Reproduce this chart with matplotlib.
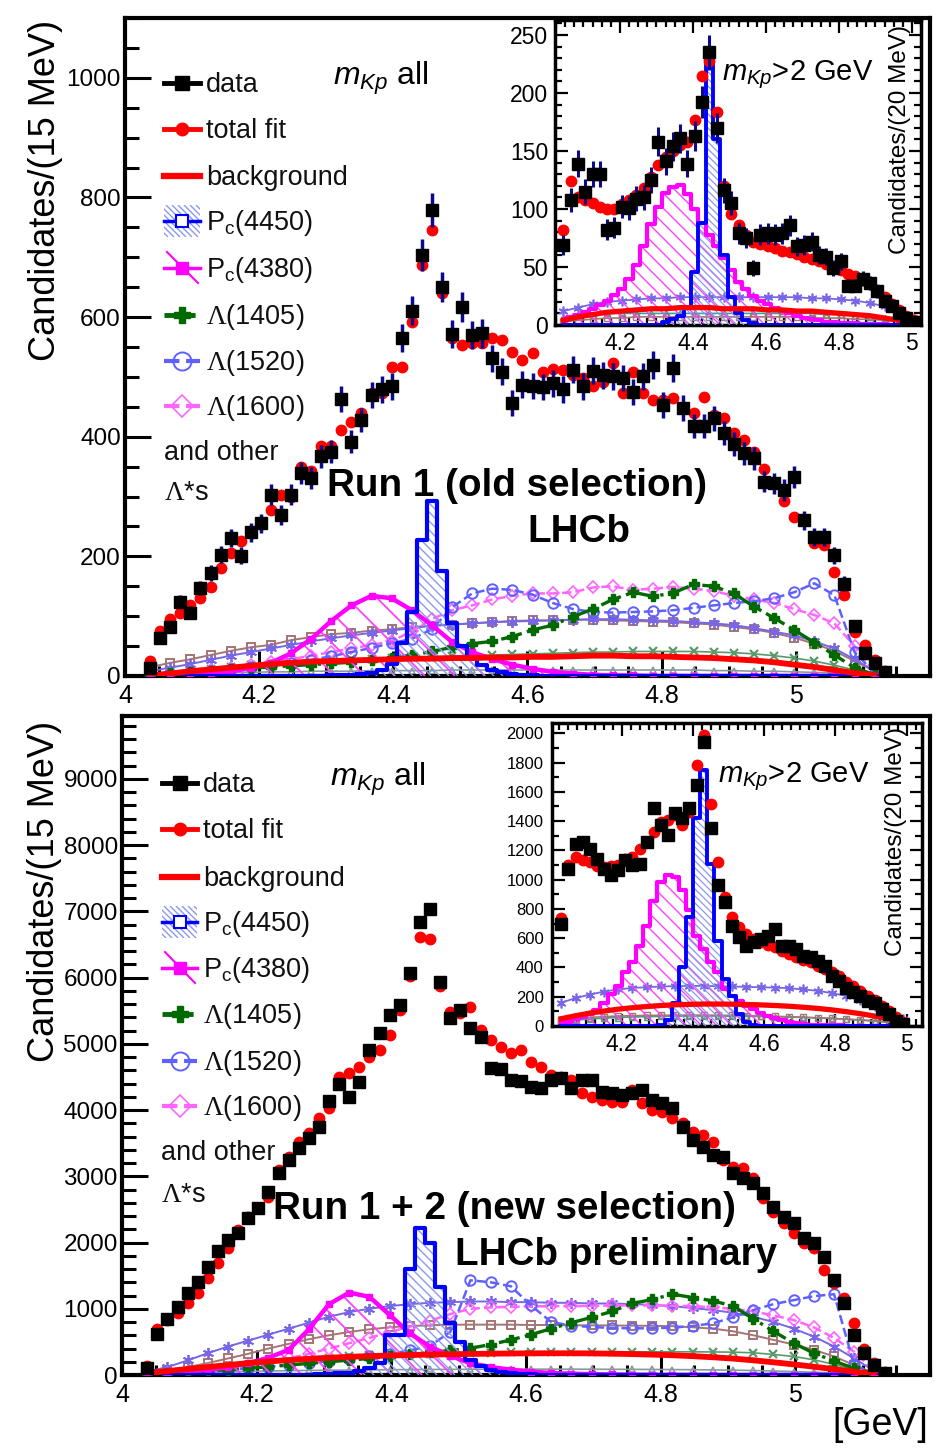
import numpy as np
import matplotlib
matplotlib.use("Agg")
import matplotlib.pyplot as plt
from matplotlib.ticker import MultipleLocator, FixedLocator, FuncFormatter
from matplotlib.collections import LineCollection
from matplotlib.patches import Rectangle

plt.rcParams["font.family"] = ["Liberation Sans", "DejaVu Sans"]
plt.rcParams["mathtext.fontset"] = "custom"
plt.rcParams["mathtext.rm"] = "Liberation Serif"
plt.rcParams["mathtext.sf"] = "Liberation Sans"
plt.rcParams["mathtext.it"] = "Liberation Sans:italic"
plt.rcParams["mathtext.bf"] = "Liberation Sans:bold"

W, H = 944, 1455

# ---------------- binning ----------------
mass = 4.0375 + 0.015 * np.arange(74)          # m(J/psi p), 15 MeV bins
comp_mass = 4.0375 + 0.03 * np.arange(37)      # fit-component curves
ins_top_mass = 4.045 + 0.02 * np.arange(49)    # 20 MeV bins (m_Kp > 2 GeV)
ins_bot_mass = 4.03 + 0.02 * np.arange(49)
ins_top_comp_mass = 4.045 + 0.04 * np.arange(25)
ins_bot_comp_mass = 4.03 + 0.04 * np.arange(25)

# ---------------- Run 1 (old selection) ----------------
run1_data = [13, 63, 82, 124, 106, 147, 172, 203, 230, 201, 240, 255, 303, 269, 303, 339,
             331, 367, 375, 463, 392, 428, 470, 479, 484, 565, 611, 704, 779, 650, 572, 617,
             570, 573, 531, 509, 456, 487, 485, 483, 489, 479, 512, 484, 510, 503, 501, 498,
             475, 501, 520, 453, 515, 448, 418, 418, 431, 406, 388, 372, 364, 325, 322, 311,
             333, 260, 232, 232, 202, 154, 84, 38, 21, 7]
run1_fit = [25, 76, 96, 105, 119, 130, 149, 180, 205, 225, 241, 255, 278, 303, 300, 350,
            342, 385, 384, 412, 425, 440, 473, 473, 517, 517, 592, 687, 746, 640, 565, 553,
            556, 556, 565, 562, 542, 528, 540, 509, 514, 512, 503, 498, 484, 492, 523, 473,
            509, 473, 462, 462, 464, 450, 439, 466, 436, 431, 406, 395, 375, 346, 325, 292,
            266, 261, 223, 219, 174, 135, 74, 52, 27, 8]
run1_pc4450 = [0] * 18 + [1, 2, 2, 3, 5, 10, 20, 55, 107, 228, 292, 175, 88, 50, 30, 18,
                          10, 6, 4, 2, 1] + [0] * 35
run1_bkg = [1, 4, 8, 11, 14, 17, 20, 22, 24, 25, 26, 27, 28, 29, 29, 30, 30, 31, 31, 32,
            32, 33, 34, 34, 33, 33, 32, 31, 30, 28, 26, 23, 19, 15, 10, 5, 1]
run1_pc4380 = [0, 1, 3, 5, 8, 13, 22, 38, 62, 92, 118, 134, 130, 110, 85, 57, 40, 28, 19,
               12, 7, 4, 2, 1, 1, 0, 0, 0, 0, 0, 0, 0, 0, 0, 0, 0, 0]
run1_l1405 = [3, 5, 7, 9, 11, 13, 15, 17, 19, 21, 23, 26, 30, 35, 41, 48, 54, 58, 66, 77,
              85, 99, 112, 128, 140, 133, 139, 153, 150, 138, 116, 97, 77, 56, 35, 14, 2]
run1_l1520 = [2, 4, 6, 9, 12, 15, 18, 22, 27, 33, 40, 47, 55, 62, 78, 115, 138, 146, 144,
              136, 122, 112, 107, 106, 107, 108, 110, 114, 118, 122, 125, 130, 140, 155,
              135, 40, 5]
run1_l1600 = [2, 4, 7, 10, 14, 18, 23, 28, 34, 40, 46, 52, 58, 75, 95, 110, 118, 128, 134,
              138, 138, 140, 148, 150, 144, 146, 149, 146, 142, 134, 128, 122, 112, 102,
              88, 50, 5]
run1_other_sq = [15, 22, 28, 35, 42, 48, 52, 60, 65, 70, 72, 76, 78, 82, 84, 86, 88, 90, 92,
                 93, 93, 94, 94, 93, 92, 91, 90, 88, 86, 82, 78, 72, 64, 54, 42, 25, 8]
run1_other_star = [8, 14, 20, 27, 34, 40, 46, 52, 58, 63, 68, 72, 76, 80, 84, 86, 88, 90,
                   91, 92, 93, 94, 95, 95, 94, 93, 92, 90, 88, 85, 80, 74, 68, 58, 46, 28, 8]
run1_other_x = [3, 6, 9, 12, 15, 18, 20, 22, 24, 26, 28, 29, 30, 31, 32, 33, 34, 35, 36, 37,
                38, 39, 40, 40, 41, 41, 41, 41, 40, 39, 37, 34, 30, 25, 18, 10, 2]
run1_other_tri = [2, 3, 4, 5, 6, 6, 7, 7, 8, 8, 8, 9, 9, 9, 9, 10, 10, 10, 10, 10, 10, 10,
                  10, 10, 10, 10, 10, 10, 9, 9, 8, 8, 7, 6, 5, 3, 1]

# ---------------- Run 1 + 2 (new selection) ----------------
run12_data = [101, 619, 841, 1032, 1234, 1409, 1636, 1877, 2039, 2140, 2366, 2517, 2768,
              3046, 3247, 3423, 3574, 3740, 4140, 4400, 4203, 4429, 4908, 5160, 5436, 5590,
              6066, 6846, 7040, 5940, 5387, 5512, 5235, 5109, 4640, 4620, 4455, 4440, 4344,
              4330, 4455, 4480, 4330, 4455, 4455, 4279, 4254, 4229, 4254, 4304, 4153, 4103,
              4027, 3750, 3549, 3448, 3322, 3297, 3046, 2970, 2894, 2744, 2542, 2391, 2291,
              2064, 1989, 1787, 1435, 1083, 604, 328, 151, 25]
run12_fit = [130, 690, 830, 931, 1082, 1233, 1460, 1686, 1913, 2190, 2391, 2517, 2693, 3096,
             3297, 3524, 3650, 3876, 4027, 4506, 4557, 4657, 4808, 4909, 5136, 5513, 6017,
             6610, 6590, 5866, 5475, 5460, 5550, 5210, 5060, 4958, 4858, 4908, 4732, 4657,
             4531, 4506, 4455, 4254, 4204, 4153, 4128, 4128, 4300, 4103, 4002, 3977, 3876,
             3801, 3675, 3624, 3524, 3247, 3146, 3121, 2970, 2668, 2467, 2291, 2140, 1989,
             1913, 1586, 1385, 1158, 780, 400, 180, 50]
run12_pc4450 = [0] * 17 + [10, 15, 25, 35, 60, 100, 176, 600, 610, 1600, 2215, 2000, 1330,
                           780, 500, 230, 130, 80, 50, 30, 20, 10] + [0] * 35
run12_bkg = [30, 60, 90, 120, 150, 180, 205, 225, 245, 260, 275, 285, 295, 302, 308, 313,
             318, 322, 325, 327, 328, 328, 326, 322, 316, 308, 298, 285, 268, 248, 222, 192,
             160, 125, 88, 50, 15]
run12_pc4380 = [20, 35, 55, 80, 115, 180, 260, 380, 690, 1070, 1244, 1180, 906, 630, 428,
                290, 176, 120, 80, 50, 30, 20, 12, 8, 5, 3, 2, 1, 0, 0, 0, 0, 0, 0, 0, 0, 0]
run12_l1405 = [10, 25, 40, 60, 80, 100, 125, 150, 175, 200, 225, 250, 280, 310, 340, 370,
               405, 460, 530, 610, 700, 790, 870, 960, 1080, 1140, 1220, 1170, 1120, 1040,
               850, 660, 480, 330, 210, 100, 20]
run12_l1520 = [10, 25, 40, 60, 80, 100, 125, 150, 180, 210, 240, 280, 320, 370, 440, 650,
               1430, 1400, 1340, 1050, 800, 745, 725, 710, 705, 705, 715, 740, 780, 870, 980,
               1070, 1130, 1190, 1220, 150, 20]
run12_l1600 = [10, 25, 45, 70, 100, 140, 190, 250, 320, 400, 480, 560, 650, 730, 820, 920,
               1000, 1020, 1030, 1035, 1040, 1040, 1045, 1050, 1050, 1050, 1045, 1040, 1020,
               1000, 960, 900, 830, 720, 560, 350, 60]
run12_other_sq = [30, 70, 120, 180, 250, 320, 400, 470, 540, 600, 650, 690, 720, 740, 750,
                  760, 760, 760, 760, 755, 755, 750, 750, 748, 745, 742, 738, 720, 700, 660,
                  600, 530, 460, 380, 280, 150, 25]
run12_other_star = [50, 120, 220, 330, 430, 520, 610, 700, 790, 880, 950, 1000, 1040, 1070,
                    1090, 1100, 1110, 1110, 1100, 1100, 1090, 1090, 1080, 1080, 1070, 1060,
                    1040, 1010, 980, 940, 880, 800, 700, 580, 430, 250, 60]
run12_other_x = [10, 35, 60, 90, 120, 150, 180, 210, 240, 260, 280, 295, 305, 312, 320, 326,
                 332, 336, 340, 342, 344, 345, 346, 348, 350, 350, 350, 350, 348, 345, 335,
                 310, 280, 230, 160, 80, 15]
run12_other_tri = [10, 20, 30, 40, 50, 55, 60, 65, 70, 72, 75, 78, 80, 82, 84, 85, 86, 87,
                   88, 88, 88, 88, 87, 86, 85, 84, 82, 80, 77, 73, 68, 60, 52, 42, 30, 15, 3]

# ---------------- insets: m_Kp > 2 GeV ----------------
ins1_data = [69, 108, 139, 115, 130, 130, 82, 84, 102, 101, 109, 110, 125, 158, 141, 154,
             161, 139, 163, 192, 235, 170, 116, 105, 79, 75, 49, 78, 79, 78, 79, 86, 68, 69,
             72, 60, 59, 49, 55, 34, 34, 40, 36, 29, 21, 16, 10, 6, 3]
ins1_fit = [82, 124, 110, 108, 105, 102, 100, 100, 104, 108, 112, 118, 128, 138, 145, 150,
            155, 158, 177, 215, 228, 184, 120, 96, 86, 78, 72, 70, 68, 66, 64, 63, 61, 59,
            57, 55, 53, 50, 47, 44, 42, 40, 35, 30, 24, 18, 13, 8, 4]
ins1_pc4450 = [0] * 14 + [3, 5, 8, 15, 46, 88, 226, 160, 60, 24, 10, 4, 2] + [0] * 22
ins1_pc4380 = [5, 7, 9, 11, 14, 17, 21, 26, 31, 40, 52, 68, 87, 102, 114, 119, 121, 113,
               100, 88, 78, 68, 58, 47, 37, 31, 25, 21, 18, 15, 12, 10, 8, 6, 5, 4, 3, 3, 2,
               2, 2, 1, 1, 1, 1, 0, 0, 0, 0]
ins1_star = [12, 15, 18, 20, 21, 22, 23, 23, 24, 24, 24, 24, 24, 24, 24, 24, 24, 23, 23,
             22, 21, 19, 16, 11, 5]
ins1_bkg = [4, 7, 9, 11, 12, 13, 14, 14, 15, 15, 15, 14, 14, 14, 13, 13, 12, 12, 11, 10, 9,
            8, 6, 4, 2]
ins1_low = [6, 8, 9, 10, 10, 10, 10, 10, 10, 10, 10, 10, 10, 10, 10, 10, 10, 10, 9, 9, 8, 7,
            6, 4, 2]
ins1_sq = [3, 4, 5, 6, 6, 7, 7, 7, 7, 7, 7, 7, 7, 7, 7, 7, 7, 6, 6, 6, 5, 5, 4, 3, 2]

ins2_data = [697, 1075, 1246, 1257, 1212, 1143, 1075, 1029, 1063, 1131, 1097, 1109, 1257,
             1486, 1372, 1308, 1452, 1418, 1486, 1646, 1943, 1350, 960, 846, 686, 606, 549,
             571, 594, 617, 663, 549, 549, 526, 480, 469, 446, 411, 343, 309, 263, 229, 206,
             171, 160, 114, 80, 34, 11]
ins2_fit = [736, 1100, 1155, 1132, 1120, 1095, 1086, 1090, 1097, 1143, 1155, 1212, 1260,
            1326, 1395, 1406, 1440, 1372, 1463, 1783, 1989, 1520, 1120, 880, 743, 674, 629,
            594, 571, 550, 537, 514, 491, 469, 450, 434, 411, 389, 366, 343, 300, 270, 240,
            206, 175, 140, 100, 60, 25]
ins2_pc4450 = [0] * 14 + [10, 40, 160, 400, 743, 1418, 1749, 1108, 583, 320, 206, 80, 30,
                          10] + [0] * 21
ins2_pc4380 = [20, 30, 45, 60, 80, 110, 160, 217, 274, 366, 434, 549, 686, 857, 983, 1029,
               1017, 926, 790, 617, 526, 440, 366, 251, 206, 170, 137, 114, 91, 70, 55, 40,
               30, 20, 15, 10, 8, 6, 5, 4, 3, 2, 2, 1, 1, 0, 0, 0, 0]
ins2_star = [160, 190, 215, 235, 250, 260, 265, 270, 272, 274, 274, 272, 270, 267, 265, 262,
             258, 250, 240, 225, 205, 175, 140, 95, 50]
ins2_bkg = [50, 70, 88, 102, 115, 125, 133, 140, 145, 148, 150, 150, 149, 147, 144, 140, 135,
            128, 120, 110, 98, 84, 68, 50, 32]
ins2_low = [30, 40, 48, 54, 58, 62, 64, 66, 67, 68, 68, 68, 67, 66, 65, 63, 61, 58, 55, 51,
            46, 40, 33, 25, 15]
ins2_sq = [40, 50, 58, 64, 68, 70, 72, 73, 74, 74, 74, 73, 72, 70, 68, 66, 63, 60, 56, 52,
           47, 42, 36, 28, 18]

# ---------------- colours ----------------
C_PC50 = "#0000ff"
C_PC50_HATCH = "#8a98ee"
C_PC80 = "#ff00ff"
C_PC80_HATCH = "#ff40ff"
C_L1405 = "#006a00"
C_L1520 = "#6060ff"
C_L1600 = "#ff66ff"
C_SQ = "#a57474"
C_STAR = "#7766e6"
C_X = "#5a9a6a"
C_TRI = "#8a9a9a"
C_TEAL = "#3a9f9f"
C_ERR = "#0a0a8a"


def px_rect(left, top, right, bottom):
    return [left / W, 1 - bottom / H, (right - left) / W, (bottom - top) / H]


def hatch_fill(ax, x, y, color, spacing, lw, step=None, zorder=2):
    """Fill the area under y with '\\' hatch lines of a given pixel spacing."""
    poly = ax.fill_between(x, 0, y, step=step, facecolor="none", edgecolor="none",
                           linewidth=0, zorder=zorder)
    path = poly.get_paths()[0]
    bb = ax.get_position()
    w_px, h_px = bb.width * W, bb.height * H
    r = h_px / w_px
    starts = np.arange(-r, 1.0, spacing / w_px)
    segs = [[(u, 1.0), (u + r, 0.0)] for u in starts]
    lc = LineCollection(segs, colors=color, linewidths=lw, transform=ax.transAxes,
                        zorder=zorder)
    ax.add_collection(lc, autolim=False)
    lc.set_clip_path(path, ax.transData)


def draw_main(ax, data, fit, pc4450, bkg, pc4380, l1405, l1520, l1600,
              o_sq, o_star, o_x, o_tri):
    ax.plot(comp_mass, o_tri, color=C_TRI, marker="^", mfc="none", ms=5, mew=1.1, lw=1.2,
            zorder=2)
    ax.plot(comp_mass, o_x, color=C_X, marker="x", ms=6, mew=1.6, lw=1.2, zorder=2)
    ax.plot(comp_mass, o_sq, color=C_SQ, marker="s", mfc="none", ms=6, mew=1.4, lw=1.4,
            zorder=2)
    ax.plot(comp_mass, o_star, color=C_STAR, marker=(6, 2, 0), ms=8, mew=1.3, lw=1.4,
            zorder=2)
    ax.plot(comp_mass, l1600, color=C_L1600, marker="D", mfc="none", ms=6.5, mew=1.2,
            ls="--", lw=1.8, zorder=2.5)
    ax.plot(comp_mass, l1520, color=C_L1520, marker="o", mfc="none", ms=7.5, mew=1.4,
            ls="--", lw=1.8, zorder=2.5)
    ax.plot(comp_mass, l1405, color=C_L1405, marker="P", ms=7.5, ls="-.", lw=2.4, zorder=2.6)
    hatch_fill(ax, comp_mass, pc4380, C_PC80_HATCH, 30, 1.3, zorder=2.7)
    ax.plot(comp_mass, pc4380, color=C_PC80, marker="s", ms=5, lw=3.2, zorder=3)
    hatch_fill(ax, mass, pc4450, C_PC50_HATCH, 9, 1.0, step="mid", zorder=2.8)
    ax.step(mass, pc4450, where="mid", color=C_PC50, lw=3, zorder=3.2)
    ax.plot(comp_mass, bkg, color="red", lw=4.2, zorder=3.5)
    ax.plot(mass, fit, "o", color="red", ms=7.5, zorder=5)
    ax.errorbar(mass, data, yerr=np.sqrt(data), fmt="s", color="black", ms=8.5,
                ecolor=C_ERR, elinewidth=2.5, capsize=0, zorder=6)


def style_main(ax, ymax, ymaj, ymin):
    ax.set_xlim(4.0, 5.2)
    ax.set_ylim(0, ymax)
    ax.xaxis.set_major_locator(FixedLocator([4.0, 4.2, 4.4, 4.6, 4.8, 5.0]))
    ax.xaxis.set_minor_locator(MultipleLocator(0.05))
    ax.yaxis.set_major_locator(MultipleLocator(ymaj))
    ax.yaxis.set_minor_locator(MultipleLocator(ymin))
    ax.xaxis.set_major_formatter(FuncFormatter(lambda v, p: f"{v:g}"))
    ax.yaxis.set_major_formatter(FuncFormatter(lambda v, p: f"{v:.0f}"))
    ax.tick_params(which="both", direction="in", top=False, right=False, width=2.2)
    ax.tick_params(axis="y", which="major", length=19, labelsize=17.5, pad=3)
    ax.tick_params(axis="y", which="minor", length=10)
    ax.tick_params(axis="x", which="major", length=18, labelsize=18, pad=6)
    ax.tick_params(axis="x", which="minor", length=7)
    for s in ax.spines.values():
        s.set_linewidth(3)


def draw_inset(ax, m, cm, data, fit, pc4450, pc4380, star, bkg, low, sq):
    ax.plot(cm, low, color=C_TEAL, marker="^", mfc="none", ms=4.5, lw=1.2, zorder=2)
    ax.plot(cm, sq, color=C_SQ, marker="s", mfc="none", ms=4.5, lw=1.2, zorder=2)
    ax.plot(cm, star, color=C_STAR, marker=(6, 2, 0), ms=7, mew=1.2, lw=1.3, zorder=2)
    hatch_fill(ax, m, pc4380, C_PC80_HATCH, 15, 1.0, step="mid", zorder=2.5)
    ax.step(m, pc4380, where="mid", color=C_PC80, lw=3, zorder=3)
    hatch_fill(ax, m, pc4450, C_PC50_HATCH, 7, 0.9, step="mid", zorder=2.6)
    ax.step(m, pc4450, where="mid", color=C_PC50, lw=2.8, zorder=3.2)
    ax.plot(cm, bkg, color="red", lw=3.8, zorder=3.5)
    ax.plot(m, fit, "o", color="red", ms=7.5, zorder=5)
    ax.errorbar(m, data, yerr=np.sqrt(data), fmt="s", color="black", ms=8.5,
                ecolor=C_ERR, elinewidth=2.2, capsize=0, zorder=6)


def style_inset(ax, xlim, ymax, ymaj, ymin, ysize, ypad):
    ax.set_xlim(*xlim)
    ax.set_ylim(0, ymax)
    ax.xaxis.set_major_locator(FixedLocator([4.2, 4.4, 4.6, 4.8, 5.0]))
    ax.xaxis.set_minor_locator(MultipleLocator(0.025))
    ax.yaxis.set_major_locator(MultipleLocator(ymaj))
    ax.yaxis.set_minor_locator(MultipleLocator(ymin))
    ax.xaxis.set_major_formatter(FuncFormatter(lambda v, p: f"{v:g}"))
    ax.yaxis.set_major_formatter(FuncFormatter(lambda v, p: f"{v:.0f}"))
    ax.tick_params(which="both", direction="in", top=True, right=True, width=1.6)
    ax.tick_params(which="major", length=9)
    ax.tick_params(which="minor", length=5)
    ax.tick_params(axis="y", labelsize=ysize, pad=ypad)
    ax.tick_params(axis="x", labelsize=16.5, pad=5)
    for s in ax.spines.values():
        s.set_linewidth(2.5)


fig = plt.figure(figsize=(W / 100, H / 100), dpi=100)

ax1 = fig.add_axes(px_rect(125, 18, 930, 676))
ax2 = fig.add_axes(px_rect(122, 716, 930, 1375))
ins1 = fig.add_axes(px_rect(555, 20, 921, 325))
ins2 = fig.add_axes(px_rect(552, 723, 922, 1026))

draw_main(ax1, run1_data, run1_fit, run1_pc4450, run1_bkg, run1_pc4380, run1_l1405,
          run1_l1520, run1_l1600, run1_other_sq, run1_other_star, run1_other_x,
          run1_other_tri)
style_main(ax1, 1100, 200, 50)

draw_main(ax2, run12_data, run12_fit, run12_pc4450, run12_bkg, run12_pc4380, run12_l1405,
          run12_l1520, run12_l1600, run12_other_sq, run12_other_star, run12_other_x,
          run12_other_tri)
style_main(ax2, 9950, 1000, 200)

draw_inset(ins1, ins_top_mass, ins_top_comp_mass, ins1_data, ins1_fit, ins1_pc4450,
           ins1_pc4380, ins1_star, ins1_bkg, ins1_low, ins1_sq)
style_inset(ins1, (4.022, 5.025), 263, 50, 10, 16.5, 5)

draw_inset(ins2, ins_bot_mass, ins_bot_comp_mass, ins2_data, ins2_fit, ins2_pc4450,
           ins2_pc4380, ins2_star, ins2_bkg, ins2_low, ins2_sq)
style_inset(ins2, (4.004, 5.043), 2070, 200, 100, 12, 6)

# ---------------- overlay for legends and labels (pixel coordinates) ----------------
ov = fig.add_axes([0, 0, 1, 1], zorder=10)
ov.set_xlim(0, W)
ov.set_ylim(H, 0)
ov.axis("off")
ov.patch.set_alpha(0)

LEG_SIZE = 19.5


def legend_block(x0, x1, xt, xo, rows, y_other, y_lstar):
    xm = 0.5 * (x0 + x1)
    y_data, y_fit, y_bkg, y_p50, y_p80, y_1405, y_1520, y_1600 = rows
    # data
    ov.plot([x0, x1], [y_data] * 2, color="black", lw=3.5)
    ov.plot([xm], [y_data], "s", color="black", ms=9.5)
    # total fit
    ov.plot([x0, x1], [y_fit] * 2, color="red", lw=3.5)
    ov.plot([xm], [y_fit], "o", color="red", ms=9)
    # background
    ov.plot([x0, x1], [y_bkg] * 2, color="red", lw=4.5)
    # Pc(4450): hatched box + line + open square
    box = Rectangle((x0, y_p50 - 16), x1 - x0, 32, transform=ov.transData)
    segs = [[(u, y_p50 - 16), (u + 32, y_p50 + 16)] for u in np.arange(x0 - 34, x1 + 2, 6)]
    lc = LineCollection(segs, colors=C_PC50_HATCH, linewidths=1.0)
    ov.add_collection(lc, autolim=False)
    lc.set_clip_path(box)
    ov.plot([x0, x1], [y_p50] * 2, color=C_PC50, lw=2.5)
    ov.plot([xm], [y_p50], "s", color=C_PC50, mfc="white", ms=8, mew=1.5)
    # Pc(4380): line + filled square + diagonal hatch line
    ov.plot([x0 + 3, x1 - 2], [y_p80 - 16, y_p80 + 15], color=C_PC80, lw=1.5)
    ov.plot([x0, x1], [y_p80] * 2, color=C_PC80, lw=2.5)
    ov.plot([xm], [y_p80], "s", color=C_PC80, ms=9)
    # Lambda states
    ov.plot([x0, x1], [y_1405] * 2, color=C_L1405, lw=3.5, ls="-.")
    ov.plot([xm], [y_1405], "P", color=C_L1405, ms=12)
    ov.plot([x0, x1], [y_1520] * 2, color=C_L1520, lw=3, ls="--")
    ov.plot([xm], [y_1520], "o", color=C_L1520, mfc="none", ms=13, mew=1.4)
    ov.plot([x0, x1], [y_1600] * 2, color=C_L1600, lw=3, ls="--")
    ov.plot([xm], [y_1600], "D", color=C_L1600, mfc="none", ms=11, mew=1.2)

    labels = ["data", "total fit", "background", r"P$_{\mathsf{c}}$(4450)",
              r"P$_{\mathsf{c}}$(4380)", r"$\Lambda$(1405)", r"$\Lambda$(1520)",
              r"$\Lambda$(1600)"]
    for lab, y in zip(labels, rows):
        ov.text(xt, y + 9, lab, fontsize=LEG_SIZE, ha="left", va="baseline", color="#111111")
    ov.text(xo, y_other + 9, "and other", fontsize=LEG_SIZE, ha="left", va="baseline",
            color="#111111")
    ov.text(xo, y_lstar + 9, r"$\Lambda$*s", fontsize=LEG_SIZE, ha="left", va="baseline",
            color="#111111")


legend_block(164, 200, 206, 164, [83, 129, 176, 221, 268, 315, 361, 406], 451, 491)
legend_block(162, 197, 203, 161, [783, 829, 877, 922, 968, 1014, 1061, 1106], 1151, 1193)

# axis titles
ov.text(46, 190, "Candidates/(15 MeV)", rotation=90, fontsize=26, ha="center", va="center")
ov.text(45, 891, "Candidates/(15 MeV)", rotation=90, fontsize=26, ha="center", va="center")
ov.text(900, 140, "Candidates/(20 MeV)", rotation=90, fontsize=17.5, ha="center", va="center")
ov.text(896, 841, "Candidates/(20 MeV)", rotation=90, fontsize=17.5, ha="center", va="center")
ov.text(880, 1425, "[GeV]", fontsize=27, ha="center", va="center")

# selection labels
ov.text(333, 85, r"$m_{Kp}$ all", fontsize=23, ha="left", va="baseline")
ov.text(330, 786, r"$m_{Kp}$ all", fontsize=23, ha="left", va="baseline")
ov.text(722, 80, r"$m_{Kp}$>2 GeV", fontsize=21, ha="left", va="baseline")
ov.text(718, 782, r"$m_{Kp}$>2 GeV", fontsize=21, ha="left", va="baseline")

ov.text(327, 496, "Run 1 (old selection)", fontsize=27.8, fontweight="bold", ha="left",
        va="baseline")
ov.text(527, 542, "LHCb", fontsize=27.8, fontweight="bold", ha="left", va="baseline")
ov.text(273, 1219, "Run 1 + 2 (new selection)", fontsize=27.8, fontweight="bold", ha="left",
        va="baseline")
ov.text(455, 1265, "LHCb preliminary", fontsize=27.8, fontweight="bold", ha="left",
        va="baseline")

fig.savefig("out.png", dpi=100, facecolor="white")
